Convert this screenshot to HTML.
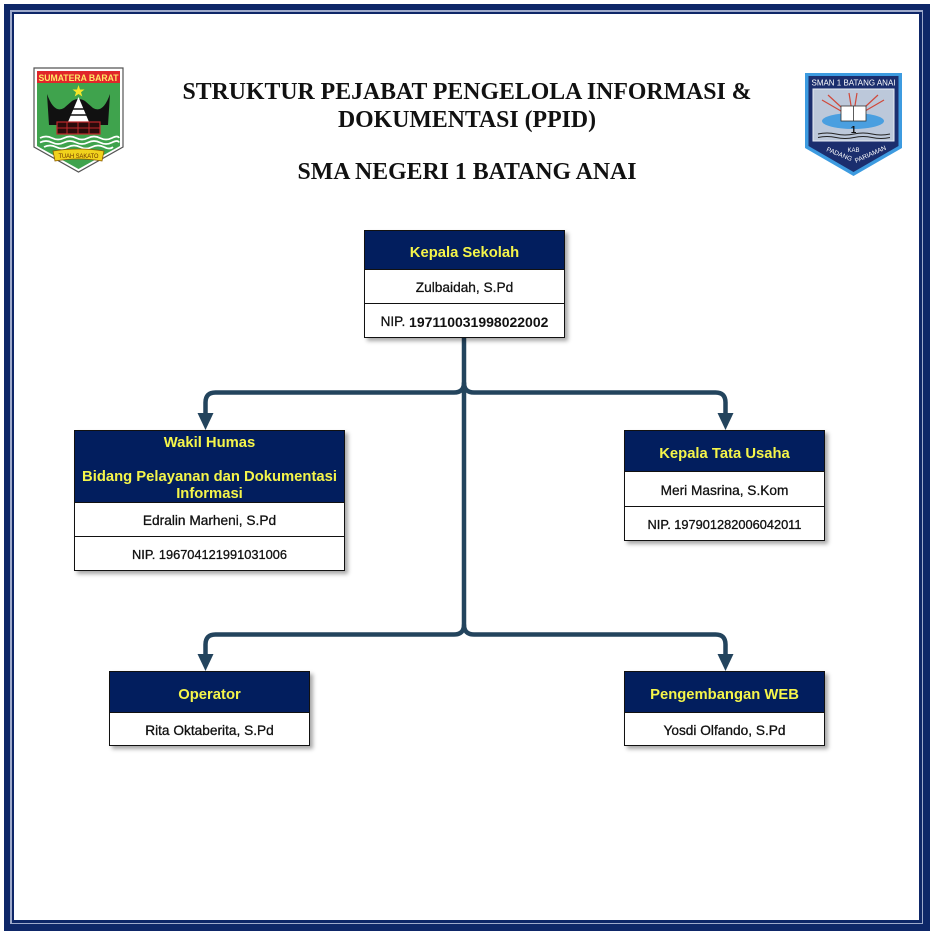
<!DOCTYPE html>
<html>
<head>
<meta charset="utf-8">
<style>
  html,body{margin:0;padding:0;}
  body{width:934px;height:935px;position:relative;background:#fff;overflow:hidden;font-family:"Liberation Sans",Arial,sans-serif;}
  .abs{position:absolute;}
  .title{position:absolute;left:0;width:934px;text-align:center;font-family:"Liberation Serif","Times New Roman",serif;font-weight:bold;font-size:23.8px;color:#111;line-height:28px;}
  .box{position:absolute;border:1px solid #111;box-sizing:border-box;background:#fff;box-shadow:3px 3px 4px rgba(0,0,0,0.35);}
  .hd{background:#021e5e;color:#f5f54a;font-weight:bold;font-size:14.8px;display:flex;align-items:center;justify-content:center;text-align:center;box-sizing:border-box;padding-top:6px;}
  .row{border-top:1px solid #111;display:flex;align-items:center;justify-content:center;color:#111;font-size:13.7px;box-sizing:border-box;-webkit-text-stroke:0.3px #111;padding-top:2px;}
  .nip{font-size:12.8px;}
  .b{font-weight:bold;-webkit-text-stroke:0;}
</style>
</head>
<body>
<!-- frame -->
<div class="abs" style="left:4px;top:4px;width:926px;height:927px;background:#0e2768;"></div>
<div class="abs" style="left:10px;top:10px;width:913px;height:914px;background:#9eaacb;"></div>
<div class="abs" style="left:11.5px;top:11.5px;width:910.5px;height:911.5px;background:#0e2768;"></div>
<div class="abs" style="left:14px;top:14px;width:905px;height:906px;background:#fff;"></div>

<svg class="abs" style="left:0;top:0" width="934" height="935" viewBox="0 0 934 935">
  <!-- Sumatera Barat logo -->
  <path d="M34,68 H123 V147 L78.5,172 L34,147 Z" fill="#fff" stroke="#555" stroke-width="1.2"/>
  <path d="M37,71 H120 V146 L78.5,169 L37,146 Z" fill="#3fa34d"/>
  <rect x="37" y="71" width="83" height="12" fill="#e0262a"/>
  <text x="78.5" y="80.8" font-size="9.5" font-weight="bold" fill="#ffe866" text-anchor="middle" font-family="Liberation Sans" textLength="80" lengthAdjust="spacingAndGlyphs">SUMATERA BARAT</text>
  <polygon points="78.5,85 80,89.5 84.5,89.5 81,92.3 82.3,96.5 78.5,94 74.7,96.5 76,92.3 72.5,89.5 77,89.5" fill="#f6e62a"/>
  <path d="M47,94 Q54,114 64,108 L72,101 Q78.5,97 85,101 L93,108 Q103,114 110,94 L108,125 H49 Z" fill="#111"/>
  <polygon points="78.5,97 68,122 89,122" fill="#fff"/>
  <line x1="72" y1="109" x2="85" y2="109" stroke="#111" stroke-width="1.5"/>
  <line x1="70" y1="115" x2="87" y2="115" stroke="#111" stroke-width="1.5"/>
  <rect x="57" y="122" width="43" height="12" fill="#2a0b0b" stroke="#c0282b" stroke-width="1.2"/>
  <line x1="57" y1="128" x2="100" y2="128" stroke="#c0282b" stroke-width="1"/>
  <line x1="67" y1="122" x2="67" y2="134" stroke="#c0282b" stroke-width="1"/>
  <line x1="78" y1="122" x2="78" y2="134" stroke="#c0282b" stroke-width="1"/>
  <line x1="89" y1="122" x2="89" y2="134" stroke="#c0282b" stroke-width="1"/>
  <path d="M40,138 q6,-3 12,0 t12,0 t12,0 t12,0 t12,0 t12,0 t7,0" fill="none" stroke="#fff" stroke-width="1.8"/>
  <path d="M40,142.5 q6,-3 12,0 t12,0 t12,0 t12,0 t12,0 t12,0 t7,0" fill="none" stroke="#fff" stroke-width="1.8"/>
  <path d="M44,147 q6,-3 12,0 t12,0 t12,0 t12,0 t12,0 t9,0" fill="none" stroke="#fff" stroke-width="1.8"/>
  <path d="M53,151 Q78.5,147 104,151 L102,161 Q78.5,157 55,161 Z" fill="#f1d21c" stroke="#8a5a00" stroke-width="0.8"/>
  <text x="78.5" y="158" font-size="6.5" fill="#6b3300" text-anchor="middle" font-family="Liberation Sans" textLength="40" lengthAdjust="spacingAndGlyphs">TUAH SAKATO</text>

  <!-- SMAN 1 Batang Anai logo -->
  <path d="M805,73 H902 V148 L853.5,176 L805,148 Z" fill="#3d9be0"/>
  <path d="M808.5,76 H898.5 V146 L853.5,172 L808.5,146 Z" fill="#1b2e6e"/>
  <text x="853.5" y="85.5" font-size="8.5" fill="#fff" text-anchor="middle" font-family="Liberation Sans" textLength="84" lengthAdjust="spacingAndGlyphs">SMAN 1 BATANG ANAI</text>
  <rect x="813" y="89" width="81" height="52" fill="#bcc8da" stroke="#e8eef6" stroke-width="1"/>
  <g stroke="#d0483a" stroke-width="1.2">
    <line x1="853" y1="118" x2="822" y2="100"/><line x1="853" y1="118" x2="828" y2="95"/>
    <line x1="853" y1="118" x2="884" y2="100"/><line x1="853" y1="118" x2="878" y2="95"/>
    <line x1="853" y1="118" x2="849" y2="93"/><line x1="853" y1="118" x2="857" y2="93"/>
  </g>
  <ellipse cx="853" cy="121" rx="31" ry="8" fill="#4a9fe0"/>
  <rect x="841" y="106" width="25" height="15" fill="#fff" stroke="#333" stroke-width="0.8"/>
  <line x1="853.5" y1="106" x2="853.5" y2="121" stroke="#333" stroke-width="0.8"/>
  <text x="853.5" y="133" font-size="10" font-weight="bold" fill="#111" text-anchor="middle" font-family="Liberation Sans">1</text>
  <path d="M818,134 q9,-2 18,0 t18,0 t18,0 t18,0" fill="none" stroke="#222" stroke-width="0.9"/>
  <path d="M818,137.5 q9,-2 18,0 t18,0 t18,0 t18,0" fill="none" stroke="#222" stroke-width="0.9"/>
  <text x="853.5" y="152" font-size="6" fill="#fff" text-anchor="middle" font-family="Liberation Sans">KAB</text>
  <text x="826" y="151" font-size="6.5" fill="#fff" font-family="Liberation Sans" transform="rotate(22 826 151)">PADANG</text>
  <text x="856" y="163" font-size="6.5" fill="#fff" font-family="Liberation Sans" transform="rotate(-24 856 163)">PARIAMAN</text>

  <!-- connectors -->
  <g fill="none" stroke="#23445d" stroke-width="4.5">
    <path d="M464,338 V624.5"/>
    <path d="M464,382.5 Q464,392.5 454,392.5 H215.5 Q205.5,392.5 205.5,402.5 V414"/>
    <path d="M464,382.5 Q464,392.5 474,392.5 H715.5 Q725.5,392.5 725.5,402.5 V414"/>
    <path d="M464,624.5 Q464,634.5 454,634.5 H215.5 Q205.5,634.5 205.5,644.5 V655"/>
    <path d="M464,624.5 Q464,634.5 474,634.5 H715.5 Q725.5,634.5 725.5,644.5 V655"/>
  </g>
  <g fill="#23445d">
    <polygon points="197.5,413 213.5,413 205.5,430"/>
    <polygon points="717.5,413 733.5,413 725.5,430"/>
    <polygon points="197.5,654 213.5,654 205.5,671"/>
    <polygon points="717.5,654 733.5,654 725.5,671"/>
  </g>
</svg>

<!-- titles -->
<div class="title" style="top:78px;">STRUKTUR PEJABAT PENGELOLA INFORMASI &amp;<br>DOKUMENTASI (PPID)</div>
<div class="title" style="top:158px;">SMA NEGERI 1 BATANG ANAI</div>

<!-- Kepala Sekolah -->
<div class="box" style="left:364px;top:230px;width:201px;height:108px;">
  <div class="hd" style="height:38px;">Kepala Sekolah</div>
  <div class="row" style="height:34px;">Zulbaidah, S.Pd</div>
  <div class="row" style="height:34px;font-size:13.6px;">NIP.&nbsp;<span class="b" style="font-size:14px;">197110031998022002</span></div>
</div>

<!-- Wakil Humas -->
<div class="box" style="left:74px;top:430px;width:271px;height:141px;">
  <div class="hd" style="height:71px;line-height:17px;align-items:flex-start;padding-top:4px;">Wakil Humas<br><br>Bidang Pelayanan dan Dokumentasi<br>Informasi</div>
  <div class="row" style="height:34px;">Edralin Marheni, S.Pd</div>
  <div class="row nip" style="height:34px;">NIP. 196704121991031006</div>
</div>

<!-- Kepala Tata Usaha -->
<div class="box" style="left:624px;top:430px;width:201px;height:111px;">
  <div class="hd" style="height:40px;">Kepala Tata Usaha</div>
  <div class="row" style="height:35px;">Meri Masrina, S.Kom</div>
  <div class="row nip" style="height:34px;">NIP. 197901282006042011</div>
</div>

<!-- Operator -->
<div class="box" style="left:109px;top:671px;width:201px;height:75px;">
  <div class="hd" style="height:40px;">Operator</div>
  <div class="row" style="height:33px;">Rita Oktaberita, S.Pd</div>
</div>

<!-- Pengembangan WEB -->
<div class="box" style="left:624px;top:671px;width:201px;height:75px;">
  <div class="hd" style="height:40px;">Pengembangan WEB</div>
  <div class="row" style="height:33px;">Yosdi Olfando, S.Pd</div>
</div>
</body>
</html>
